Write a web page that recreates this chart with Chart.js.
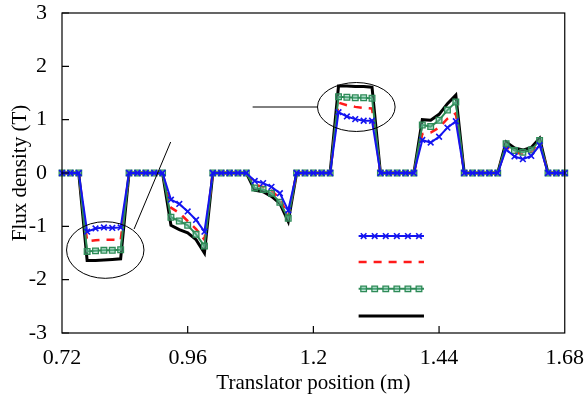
<!DOCTYPE html>
<html>
<head>
<meta charset="utf-8">
<script src="https://cdn.jsdelivr.net/npm/chart.js@4.4.1/dist/chart.umd.min.js"></script>
<style>
  html, body { margin:0; padding:0; background:#fff; }
  #wrap { width:588px; height:394px; }
</style>
</head>
<body>
<div id="wrap"><canvas id="chart"></canvas></div>
<script>
// translator positions (m)
const positions = [
  0.720,0.736,0.752,0.768,0.784,0.800,0.816,0.832,0.848,0.864,
  0.880,0.896,0.912,0.928,0.944,0.960,0.976,0.992,1.008,1.024,
  1.040,1.056,1.072,1.088,1.104,1.120,1.136,1.152,1.168,1.184,
  1.200,1.216,1.232,1.248,1.264,1.280,1.296,1.312,1.328,1.344,
  1.360,1.376,1.392,1.408,1.424,1.440,1.456,1.472,1.488,1.504,
  1.520,1.536,1.552,1.568,1.584,1.600,1.616,1.632,1.648,1.664,
  1.680
];

// flux density (T), one array per curve
const blueCross = [
  0,0,0, -1.10,-1.04,-1.02,-1.03,-1.02, 0,0,0,0,0,
  -0.50,-0.58,-0.72,-0.88,-1.10, 0,0,0,0,0,
  -0.15,-0.19,-0.26,-0.38,-0.70, 0,0,0,0,0,
  1.14,1.06,1.01,0.98,0.98, 0,0,0,0,0,
  0.62,0.57,0.68,0.85,0.97, 0,0,0,0,0,
  0.44,0.31,0.26,0.32,0.52, 0,0,0
];
const redDash = [
  0,0,0, -1.28,-1.26,-1.25,-1.25,-1.26, 0,0,0,0,0,
  -0.65,-0.75,-0.90,-1.05,-1.25, 0,0,0,0,0,
  -0.22,-0.26,-0.33,-0.48,-0.80, 0,0,0,0,0,
  1.32,1.27,1.24,1.22,1.21, 0,0,0,0,0,
  0.73,0.76,0.85,1.02,1.12, 0,0,0,0,0,
  0.50,0.38,0.36,0.40,0.58, 0,0,0
];
const greenSquare = [
  0,0,0, -1.47,-1.46,-1.45,-1.45,-1.44, 0,0,0,0,0,
  -0.83,-0.90,-0.98,-1.15,-1.37, 0,0,0,0,0,
  -0.28,-0.31,-0.38,-0.55,-0.85, 0,0,0,0,0,
  1.43,1.42,1.41,1.41,1.40, 0,0,0,0,0,
  0.90,0.87,0.99,1.18,1.33, 0,0,0,0,0,
  0.55,0.42,0.39,0.43,0.61, 0,0,0
];
const blackSolid = [
  0,0,0, -1.64,-1.64,-1.63,-1.62,-1.61, 0,0,0,0,0,
  -0.98,-1.06,-1.12,-1.25,-1.50, 0,0,0,0,0,
  -0.32,-0.35,-0.44,-0.57,-0.91, 0,0,0,0,0,
  1.63,1.63,1.62,1.62,1.61, 0,0,0,0,0,
  1.00,0.99,1.10,1.30,1.46, 0,0,0,0,0,
  0.58,0.47,0.43,0.48,0.65, 0,0,0
];

const xTicks = [0.72, 0.96, 1.2, 1.44, 1.68];
const xTickLabels = ["0.72", "0.96", "1.2", "1.44", "1.68"];
const yTicks = [-3, -2, -1, 0, 1, 2, 3];

const FONT = "'Liberation Serif', 'Times New Roman', serif";
const BLUE = "#1414f0", RED = "#ff1a1a", GREEN = "#2e8b57";

function pts(arr){ return arr.map((v,i)=>({x:positions[i], y:v})); }

// frame, inward ticks, callout ellipses and the label-less legend
const decor = {
  id: "decor",
  afterDraw(chart){
    const ctx = chart.ctx, a = chart.chartArea;
    const xs = chart.scales.x, ys = chart.scales.y;
    ctx.save();
    ctx.strokeStyle = "#000";
    ctx.lineWidth = 1.2;
    ctx.strokeRect(a.left, a.top, a.right-a.left, a.bottom-a.top);
    ctx.beginPath();
    yTicks.forEach(v=>{
      const y = ys.getPixelForValue(v);
      ctx.moveTo(a.left, y); ctx.lineTo(a.left+7, y);
    });
    xTicks.slice(1,-1).forEach(v=>{
      const x = xs.getPixelForValue(v);
      ctx.moveTo(x, a.bottom); ctx.lineTo(x, a.bottom-7);
    });
    ctx.stroke();

    // callouts
    ctx.lineWidth = 1;
    const ell = (cx, cy, rx, ry)=>{
      const px = xs.getPixelForValue(cx), py = ys.getPixelForValue(cy);
      const w = xs.getPixelForValue(cx+rx)-px, h = py-ys.getPixelForValue(cy+ry);
      ctx.beginPath(); ctx.ellipse(px, py, w, h, 0, 0, Math.PI*2); ctx.stroke();
    };
    const seg = (x1,y1,x2,y2)=>{
      ctx.beginPath();
      ctx.moveTo(xs.getPixelForValue(x1), ys.getPixelForValue(y1));
      ctx.lineTo(xs.getPixelForValue(x2), ys.getPixelForValue(y2));
      ctx.stroke();
    };
    ell(0.8026, -1.444, 0.0739, 0.531);
    seg(0.8577, -1.05, 0.9275, 0.581);
    ell(1.282, 1.2375, 0.0741, 0.459);
    seg(1.084, 1.2375, 1.208, 1.2375);

    // legend samples (no text in the source)
    const W = a.right-a.left, H = a.bottom-a.top;
    const lx0 = a.left + W*0.590, lx1 = a.left + W*0.720;
    const rows = [0.697, 0.778, 0.862, 0.947].map(f=>a.top + H*f);
    chart.data.datasets.forEach((ds, k)=>{
      const y = rows[k];
      ctx.save();
      ctx.strokeStyle = ds.borderColor;
      ctx.lineWidth = ds.borderWidth;
      ctx.setLineDash(ds.borderDash || []);
      ctx.beginPath(); ctx.moveTo(lx0, y); ctx.lineTo(lx1, y); ctx.stroke();
      ctx.setLineDash([]);
      if(ds.pointRadius > 0){
        for(let j=0;j<6;j++){
          const x = lx0 + 5 + j*(lx1-lx0-10)/5;
          ctx.fillStyle = ds.pointBackgroundColor;
          ctx.strokeStyle = ds.pointBorderColor;
          ctx.lineWidth = ds.pointBorderWidth;
          ctx.beginPath();
          const r = ds.pointRadius;
          if(ds.pointStyle === "rect"){
            ctx.rect(x-r*0.7, y-r*0.7, 1.4*r, 1.4*r); ctx.fill(); ctx.stroke();
          } else {
            const q = r*0.7;
            ctx.moveTo(x-q, y-q); ctx.lineTo(x+q, y+q);
            ctx.moveTo(x+q, y-q); ctx.lineTo(x-q, y+q); ctx.stroke();
          }
        }
      }
      ctx.restore();
    });
    ctx.restore();
  }
};

new Chart(document.getElementById("chart"), {
  type: "line",
  data: {
    datasets: [
      { label: "A", data: pts(blueCross), borderColor: BLUE, borderWidth: 2,
        pointStyle: "crossRot", pointRadius: 4, pointBorderColor: BLUE, pointBorderWidth: 1.6,
        pointBackgroundColor: BLUE, order: 1, clip: false },
      { label: "B", data: pts(redDash), borderColor: RED, borderWidth: 2.5, borderDash: [8, 7],
        pointRadius: 0, order: 3, clip: false },
      { label: "C", data: pts(greenSquare), borderColor: GREEN, borderWidth: 2,
        pointStyle: "rect", pointRadius: 4, pointBorderColor: GREEN, pointBorderWidth: 1.3,
        pointBackgroundColor: "rgba(120,200,170,0.45)", order: 2, clip: false },
      { label: "D", data: pts(blackSolid), borderColor: "#000", borderWidth: 3,
        pointRadius: 0, order: 4, clip: false }
    ]
  },
  options: {
    responsive: true,
    maintainAspectRatio: false,
    animation: false,
    layout: { padding: { left: 0, right: 17, top: 13, bottom: 0 } },
    plugins: { legend: { display: false }, tooltip: { enabled: false } },
    elements: { line: { tension: 0 } },
    scales: {
      x: {
        type: "linear", min: 0.72, max: 1.68,
        afterBuildTicks: s => { s.ticks = xTicks.map(v=>({value:v})); },
        afterFit: s => { s.height = 61; },
        ticks: { autoSkip: false, maxRotation: 0, padding: 4, color: "#000",
          font: { family: FONT, size: 22 },
          callback: v => xTickLabels[xTicks.indexOf(v)] },
        grid: { display: false },
        border: { display: false },
        title: { display: true, text: "Translator position (m)", color: "#000",
          font: { family: FONT, size: 21 }, padding: { top: 0, bottom: -2 } }
      },
      y: {
        min: -3, max: 3,
        afterBuildTicks: s => { s.ticks = yTicks.map(v=>({value:v})); },
        afterFit: s => { s.width = 62; s.paddingTop = 0; s.paddingBottom = 0; },
        ticks: { padding: 7, color: "#000", font: { family: FONT, size: 22 } },
        grid: { display: false },
        border: { display: false },
        title: { display: true, text: "Flux density (T)", color: "#000",
          font: { family: FONT, size: 21 }, padding: { top: 8, bottom: 0 } }
      }
    }
  },
  plugins: [decor]
});
</script>
</body>
</html>
